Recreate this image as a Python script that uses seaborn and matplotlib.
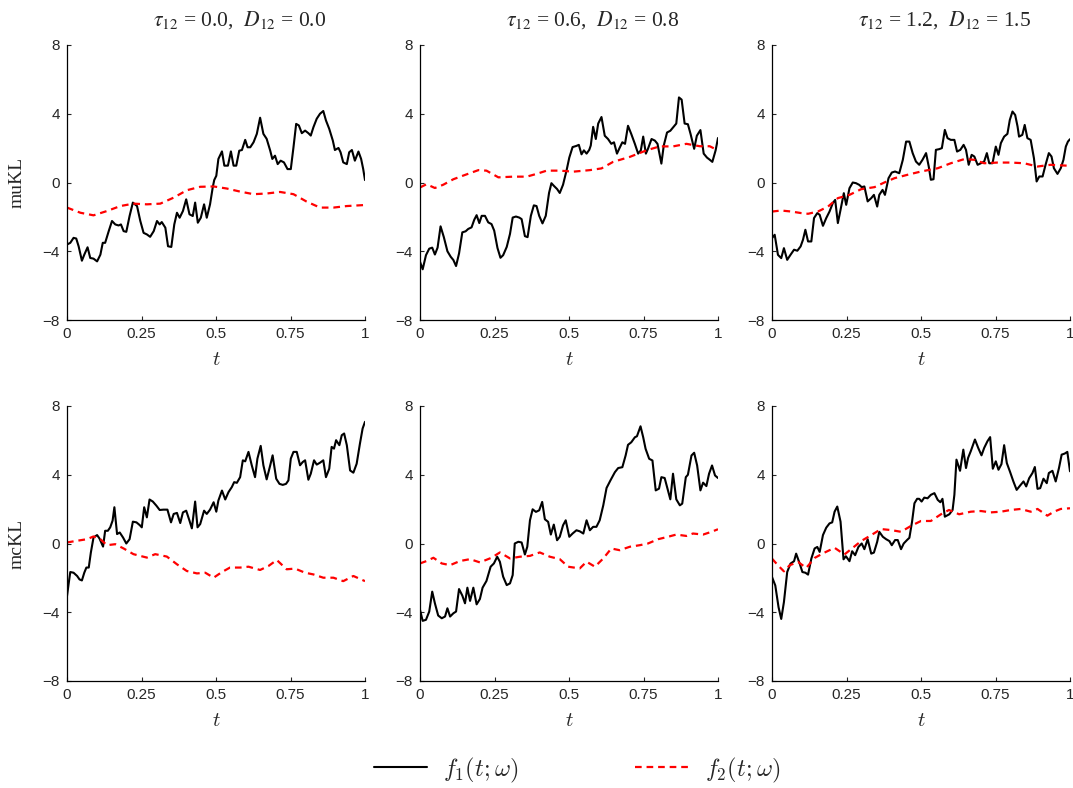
import numpy as np
import pandas as pd
import matplotlib
matplotlib.use("Agg")
import matplotlib.pyplot as plt
from matplotlib.lines import Line2D
from matplotlib.font_manager import FontProperties
import seaborn as sns

# ---------------------------------------------------------------- data
# muKL, tau12 = 0.0, D12 = 0.0
t_mu0_f1 = [0, .011, .022, .031, .039, .050, .058, .069, .078, .089, .101, .112, .120, .128, .140, .151, .162, .173, .181, .190,
            .199, .210, .221, .235, .246, .257, .268, .279, .291, .302, .311, .318, .330, .339, .350, .360, .369, .378, .389, .400,
            .411, .422, .430, .439, .449, .460, .469, .480, .489, .494, .501, .508, .520, .528, .540, .550, .559, .568, .578, .587,
            .598, .606, .615, .626, .637, .648, .659, .670, .682, .689, .698, .707, .717, .728, .740, .751, .760, .769, .778, .788,
            .799, .810, .818, .827, .838, .849, .860, .869, .880, .892, .899, .911, .918, .927, .939, .947, .956, .966, .978, .987,
            .994, 1.0]
y_mu0_f1 = [-3.61, -3.51, -3.22, -3.26, -3.71, -4.55, -4.20, -3.77, -4.39, -4.43, -4.59, -4.20, -3.51, -3.51, -2.83, -2.24, -2.44, -2.50, -2.44, -2.83,
            -2.87, -1.95, -1.17, -1.37, -2.24, -2.93, -3.02, -3.16, -2.83, -2.24, -2.44, -2.30, -2.63, -3.71, -3.75, -2.44, -1.76, -2.05, -1.66, -0.98,
            -1.85, -1.95, -1.17, -2.34, -2.05, -1.27, -2.05, -1.27, -0.29, 0.14, 0.39, 1.37, 1.81, 0.98, 0.98, 1.81, 0.98, 0.98, 1.85, 1.89,
            2.48, 2.05, 2.05, 2.34, 2.83, 3.77, 2.83, 2.54, 1.85, 1.37, 1.56, 1.07, 1.27, 1.17, 0.78, 0.78, 2.05, 3.41, 3.32, 2.87,
            3.02, 2.87, 2.73, 3.22, 3.71, 4.00, 4.16, 3.61, 3.12, 2.44, 1.89, 2.01, 1.76, 1.17, 1.07, 1.76, 1.89, 1.27, 1.80, 1.37,
            0.78, 0.14]
t_mu0_f2 = [0, .045, .089, .134, .179, .223, .268, .313, .358, .402, .447, .492, .536, .581, .626, .670, .715, .760, .804, .849, .894, .939, 1.0]
y_mu0_f2 = [-1.46, -1.76, -1.91, -1.66, -1.37, -1.23, -1.27, -1.23, -0.88, -0.45, -0.25, -0.23, -0.35, -0.53, -0.68, -0.64, -0.55, -0.68, -1.11, -1.46, -1.46, -1.37, -1.31]

# muKL, tau12 = 0.6, D12 = 0.8
t_mu1_f1 = [0, .009, .020, .031, .041, .050, .059, .069, .080, .092, .103, .112, .121, .131, .142, .153, .162, .173, .182, .190,
            .199, .207, .218, .229, .240, .249, .260, .270, .279, .291, .302, .311, .322, .333, .341, .352, .361, .372, .382, .391,
            .400, .411, .422, .433, .441, .449, .460, .469, .480, .492, .501, .512, .525, .533, .542, .550, .559, .568, .573, .581,
            .590, .598, .609, .620, .631, .642, .651, .661, .670, .679, .688, .698, .709, .721, .732, .741, .749, .758, .765, .777,
            .788, .797, .810, .818, .829, .840, .851, .860, .869, .878, .888, .899, .908, .920, .929, .941, .952, .963, .972, .981,
            .992, 1.0]
y_mu1_f1 = [-4.61, -5.05, -4.23, -3.85, -3.79, -4.19, -3.79, -2.55, -3.18, -4.00, -4.32, -4.51, -4.86, -4.13, -2.90, -2.84, -2.70, -2.61, -2.17, -1.90,
            -2.36, -1.94, -1.94, -2.32, -2.42, -2.80, -3.81, -4.38, -4.23, -3.75, -2.99, -2.04, -1.98, -2.04, -2.13, -3.12, -3.18, -1.94, -1.33, -1.37,
            -1.94, -2.38, -1.94, -0.61, -0.04, -0.19, -0.38, -0.61, -0.13, 0.72, 1.45, 2.06, 2.13, 2.19, 1.64, 1.87, 1.68, 1.90, 2.15, 3.24,
            2.53, 3.43, 3.81, 2.72, 2.53, 2.25, 2.34, 1.68, 2.02, 2.34, 2.25, 3.30, 2.82, 2.25, 1.68, 1.87, 2.67, 1.68, 1.96, 2.53,
            2.44, 2.25, 1.10, 2.15, 2.91, 3.01, 3.24, 3.43, 4.95, 4.82, 3.43, 3.39, 2.82, 1.96, 2.72, 3.05, 1.68, 1.45, 1.33, 1.20,
            1.87, 2.59]
t_mu1_f2 = [0, .022, .050, .078, .112, .151, .196, .223, .263, .313, .358, .391, .425, .469, .514, .570, .609, .648, .704, .760, .804, .849, .894, .939, .972, 1.0]
y_mu1_f2 = [-0.29, -0.10, -0.32, -0.13, 0.19, 0.44, 0.72, 0.69, 0.30, 0.34, 0.34, 0.50, 0.69, 0.69, 0.63, 0.72, 0.82, 1.20, 1.49, 1.87, 2.10, 2.10, 2.25, 2.11, 2.11, 1.87]

# muKL, tau12 = 1.2, D12 = 1.5
t_mu2_f1 = [0, .009, .020, .031, .040, .051, .062, .074, .085, .096, .104, .112, .121, .132, .141, .152, .160, .171, .182, .193,
            .204, .212, .221, .230, .241, .249, .260, .271, .282, .293, .301, .310, .321, .333, .342, .353, .360, .371, .379, .391,
            .402, .413, .427, .439, .450, .461, .472, .483, .494, .505, .517, .526, .533, .542, .550, .561, .570, .580, .589, .600,
            .612, .621, .632, .643, .651, .660, .670, .679, .690, .701, .712, .721, .729, .740, .751, .760, .768, .779, .790, .798,
            .807, .816, .824, .829, .840, .848, .857, .868, .879, .888, .897, .908, .918, .929, .938, .946, .958, .969, .978, .986,
            .993, 1.0]
y_mu2_f1 = [-3.24, -3.04, -4.21, -4.40, -3.82, -4.50, -4.21, -3.91, -3.97, -3.72, -3.33, -2.75, -3.43, -3.43, -2.07, -1.78, -1.88, -2.52, -2.07, -1.69,
            -1.20, -1.01, -2.36, -1.59, -0.62, -1.30, -0.33, 0.00, -0.04, -0.14, -0.27, -0.23, -1.10, -0.91, -0.72, -1.40, -0.72, -0.43, -0.72, 0.25,
            0.58, 0.64, 0.54, 1.32, 2.38, 2.38, 1.71, 1.22, 1.03, 1.32, 1.71, 0.93, 0.16, 0.19, 1.90, 1.94, 2.00, 3.06, 2.58, 2.48,
            2.48, 1.80, 1.90, 2.19, 1.90, 1.03, 1.61, 1.51, 1.03, 1.12, 1.22, 1.71, 1.12, 1.12, 2.09, 1.61, 2.29, 2.67, 2.83, 3.64,
            4.13, 3.93, 3.26, 2.67, 2.77, 3.35, 2.58, 2.48, 1.41, 0.06, 0.35, 0.35, 1.03, 1.71, 1.51, 0.83, 0.50, 0.83, 1.32, 2.09,
            2.38, 2.52]
t_mu2_f2 = [0, .031, .065, .098, .121, .154, .188, .221, .260, .299, .344, .377, .411, .455, .500, .556, .600, .645, .679, .712, .757, .801, .846, .891, .935, 1.0]
y_mu2_f2 = [-1.69, -1.63, -1.69, -1.78, -1.82, -1.69, -1.40, -0.91, -0.72, -0.39, -0.27, 0.00, 0.25, 0.45, 0.64, 0.83, 1.12, 1.36, 1.32, 1.12, 1.16, 1.16, 1.12, 0.93, 1.03, 0.97]

# mcKL, tau12 = 0.0, D12 = 0.0
t_mc0_f1 = [0, .006, .011, .022, .034, .042, .050, .058, .065, .073, .080, .089, .101, .109, .121, .128, .137, .145, .153, .159,
            .168, .177, .188, .199, .210, .221, .233, .244, .251, .259, .268, .277, .288, .300, .311, .324, .337, .349, .358, .369,
            .380, .389, .400, .411, .419, .430, .438, .447, .460, .469, .480, .492, .501, .508, .520, .531, .542, .553, .561, .570,
            .581, .590, .598, .609, .620, .631, .639, .650, .659, .670, .682, .690, .702, .713, .724, .735, .743, .751, .760, .771,
            .782, .791, .799, .810, .818, .829, .838, .849, .860, .869, .880, .888, .896, .903, .914, .922, .930, .939, .950, .961,
            .972, .983, .992, 1.0]
y_mc0_f1 = [-3.06, -2.28, -1.66, -1.70, -1.89, -2.09, -2.15, -1.70, -1.40, -1.40, -0.53, 0.35, 0.49, 0.29, -0.18, 0.74, 0.74, 0.94, 1.33, 2.11,
            0.55, 0.64, 0.35, 0.00, 0.25, 1.27, 1.23, 1.07, 0.94, 2.11, 1.52, 2.56, 2.44, 2.20, 1.95, 1.97, 1.97, 1.23, 1.72, 1.78,
            1.19, 1.81, 1.91, 1.33, 0.88, 2.44, 0.94, 1.13, 1.91, 1.72, 1.97, 2.40, 1.85, 2.50, 3.08, 2.56, 2.99, 3.28, 3.57, 3.53,
            3.86, 4.84, 4.78, 5.33, 4.55, 3.86, 4.94, 5.68, 4.55, 3.73, 4.55, 5.13, 3.77, 3.47, 3.41, 3.47, 3.67, 4.94, 5.33, 5.33,
            4.55, 4.74, 4.84, 3.71, 4.06, 4.84, 4.59, 4.70, 4.84, 3.86, 4.35, 5.62, 5.52, 6.01, 5.72, 6.30, 6.40, 5.72, 4.25, 4.12,
            4.64, 5.81, 6.69, 7.08]
t_mc0_f2 = [0, .034, .067, .089, .112, .134, .162, .190, .223, .268, .296, .335, .369, .402, .436, .464, .492, .520, .547, .581, .609, .648, .676,
            .704, .737, .765, .799, .827, .860, .894, .927, .961, 1.0]
y_mc0_f2 = [0.06, 0.16, 0.25, 0.41, 0.25, -0.10, -0.04, -0.29, -0.62, -0.82, -0.62, -0.76, -1.21, -1.60, -1.74, -1.70, -1.99, -1.66, -1.40, -1.40, -1.35, -1.54, -1.31,
            -0.96, -1.50, -1.46, -1.70, -1.80, -1.99, -1.99, -2.19, -1.89, -2.19]

# mcKL, tau12 = 0.6, D12 = 0.8
t_mc1_f1 = [0, .009, .020, .031, .041, .050, .061, .073, .084, .092, .101, .112, .121, .131, .142, .151, .159, .168, .179, .190,
            .201, .210, .223, .237, .248, .259, .268, .279, .291, .302, .311, .318, .330, .341, .352, .360, .369, .378, .389, .400,
            .410, .419, .430, .439, .449, .460, .469, .480, .489, .501, .512, .525, .536, .548, .559, .570, .581, .592, .603, .615,
            .626, .639, .654, .665, .679, .690, .698, .709, .721, .728, .740, .749, .757, .769, .780, .791, .802, .810, .821, .829,
            .840, .849, .860, .872, .880, .892, .899, .911, .920, .930, .941, .950, .961, .970, .980, .990, 1.0]
y_mc1_f1 = [-3.86, -4.50, -4.44, -3.96, -2.80, -3.48, -4.19, -4.35, -4.25, -3.77, -4.25, -4.06, -3.96, -2.65, -3.03, -3.48, -2.57, -3.34, -2.57, -3.54,
            -3.23, -2.57, -2.18, -1.35, -1.16, -0.77, -1.06, -1.93, -2.42, -2.32, -1.84, 0.00, 0.10, 0.06, -0.64, -0.19, 1.35, 1.99, 1.84, 1.93,
            2.42, 1.41, 1.26, 0.52, 1.10, 0.19, 0.39, 1.06, 1.35, 0.39, 0.58, 0.77, 0.71, 0.58, 1.35, 0.77, 0.97, 0.97, 1.35, 2.22,
            3.23, 3.67, 4.15, 4.39, 4.44, 5.12, 5.74, 5.89, 6.18, 6.24, 6.82, 6.18, 5.51, 4.93, 4.83, 3.09, 3.19, 3.86, 3.81, 3.29,
            2.57, 4.06, 2.57, 2.22, 2.32, 3.86, 4.00, 5.12, 5.28, 4.54, 3.09, 3.54, 3.34, 4.06, 4.54, 3.96, 3.81]
t_mc1_f2 = [0, .022, .045, .073, .101, .134, .168, .201, .240, .268, .302, .335, .369, .402, .436, .469, .497, .536, .559, .587, .615, .642, .670,
            .704, .737, .765, .799, .832, .860, .894, .916, .950, .978, 1.0]
y_mc1_f2 = [-1.16, -1.02, -0.83, -1.16, -1.26, -1.02, -0.91, -1.10, -0.83, -0.52, -0.87, -0.77, -0.72, -0.52, -0.77, -0.91, -1.35, -1.45, -1.06, -1.35, -0.87, -0.29, -0.39,
            -0.19, -0.10, 0.00, 0.25, 0.39, 0.52, 0.44, 0.58, 0.52, 0.68, 0.83]

# mcKL, tau12 = 1.2, D12 = 1.5
t_mc2_f1 = [0, .011, .022, .031, .040, .051, .062, .074, .081, .093, .102, .112, .121, .132, .143, .152, .160, .171, .182, .193,
            .202, .210, .219, .230, .240, .248, .260, .269, .279, .290, .301, .310, .321, .333, .342, .353, .360, .372, .383, .394,
            .402, .413, .422, .433, .442, .453, .461, .470, .478, .487, .494, .502, .511, .522, .533, .545, .556, .565, .572, .580,
            .595, .606, .612, .619, .631, .642, .651, .658, .667, .681, .692, .703, .712, .723, .732, .741, .751, .760, .770, .779,
            .788, .799, .810, .821, .833, .844, .853, .863, .874, .882, .891, .900, .911, .922, .929, .941, .952, .963, .972, .982,
            .991, 1.0]
y_mc2_f1 = [-1.95, -2.44, -3.71, -4.39, -3.41, -1.66, -1.17, -1.03, -0.59, -1.17, -1.66, -1.70, -1.81, -0.88, -0.29, -0.20, -0.49, 0.49, 0.92, 1.17,
            1.23, 1.85, 2.15, 1.27, -0.92, -0.74, -1.03, -0.45, -0.68, -0.20, 0.00, -0.33, 0.25, -0.59, -0.53, 0.10, 0.68, 0.39, 0.25, 0.14,
            -0.10, 0.20, 0.20, -0.33, 0.00, 0.20, 0.33, 1.27, 2.34, 2.60, 2.60, 2.44, 2.67, 2.63, 2.83, 2.93, 2.54, 2.40, 2.60, 1.56,
            1.70, 1.95, 2.83, 4.88, 4.23, 5.46, 4.39, 4.98, 5.37, 6.05, 5.56, 5.13, 5.56, 5.95, 6.19, 4.35, 4.78, 4.29, 4.62, 5.72,
            4.68, 4.16, 3.61, 3.12, 3.38, 3.61, 3.32, 3.80, 4.10, 4.45, 3.18, 3.22, 3.77, 3.51, 4.10, 4.23, 3.61, 4.39, 5.17, 5.23,
            5.33, 4.20]
t_mc2_f2 = [0, .020, .040, .059, .087, .115, .143, .176, .210, .243, .271, .299, .333, .366, .400, .433, .467, .500, .533, .567, .594, .628, .667,
            .701, .734, .768, .801, .835, .868, .891, .924, .946, .969, 1.0]
y_mc2_f2 = [-0.88, -1.27, -1.62, -1.27, -1.07, -1.42, -0.84, -0.53, -0.25, -0.64, -0.25, 0.14, 0.49, 0.84, 0.78, 0.68, 1.03, 1.31, 1.31, 1.70, 1.95, 1.70, 1.85,
            1.89, 1.81, 1.85, 1.95, 2.01, 1.85, 2.01, 1.62, 1.85, 2.01, 2.05]

row_labels = ["muKL", "mcKL"]
tau12 = ["0.0", "0.6", "1.2"]
D12 = ["0.0", "0.8", "1.5"]
x_ticks = [0, 0.25, 0.5, 0.75, 1]
x_tick_labels = ["0", "0.25", "0.5", "0.75", "1"]
y_ticks = [-8, -4, 0, 4, 8]
series_labels = [r"$f_1(t;\omega)$", r"$f_2(t;\omega)$"]

panels = [
    [(t_mu0_f1, y_mu0_f1, t_mu0_f2, y_mu0_f2),
     (t_mu1_f1, y_mu1_f1, t_mu1_f2, y_mu1_f2),
     (t_mu2_f1, y_mu2_f1, t_mu2_f2, y_mu2_f2)],
    [(t_mc0_f1, y_mc0_f1, t_mc0_f2, y_mc0_f2),
     (t_mc1_f1, y_mc1_f1, t_mc1_f2, y_mc1_f2),
     (t_mc2_f1, y_mc2_f1, t_mc2_f2, y_mc2_f2)],
]

# ---------------------------------------------------------------- style
sns.set_style("ticks")
plt.rcParams.update({
    "font.family": ["Liberation Sans", "DejaVu Sans"],
    "axes.linewidth": 0.9,
    "axes.edgecolor": "black",
    "xtick.direction": "in",
    "ytick.direction": "in",
    "xtick.major.size": 3,
    "ytick.major.size": 3,
    "xtick.major.width": 0.8,
    "ytick.major.width": 0.8,
    "xtick.major.pad": 5,
    "ytick.major.pad": 5,
    "xtick.labelsize": 11,
    "ytick.labelsize": 11,
})

serif = ["Liberation Serif", "DejaVu Serif"]
title_font = FontProperties(family=serif, size=15.5, math_fontfamily="stix")
ylabel_font = FontProperties(family=serif, size=14)
xlabel_font = FontProperties(size=15, math_fontfamily="cm")
legend_font = FontProperties(size=17.5, math_fontfamily="cm")

W, H = 1073, 788
fig = plt.figure(figsize=(W / 100, H / 100), dpi=100)

col_left = [67, 420, 772]
ax_w = 298
row_top = [45, 406]
ax_h = 275

f1_kw = dict(color="black", linewidth=1.5)
f2_kw = dict(color="#ff0000", linewidth=1.6, dashes=(3.0, 2.2))

for r in range(2):
    for c in range(3):
        ax = fig.add_axes([col_left[c] / W, 1 - (row_top[r] + ax_h) / H, ax_w / W, ax_h / H])
        ta, ya, tb, yb = panels[r][c]
        d1 = pd.DataFrame({"t": ta, "f": ya})
        d2 = pd.DataFrame({"t": tb, "f": yb})
        sns.lineplot(data=d1, x="t", y="f", ax=ax, **f1_kw)
        line2 = sns.lineplot(data=d2, x="t", y="f", ax=ax, color=f2_kw["color"],
                             linewidth=f2_kw["linewidth"]).lines[-1]
        line2.set_dashes(f2_kw["dashes"])
        ax.set_xlim(0, 1)
        ax.set_ylim(-8, 8)
        ax.set_xticks(x_ticks)
        ax.set_xticklabels(x_tick_labels)
        ax.set_yticks(y_ticks)
        sns.despine(ax=ax)
        ax.set_xlabel(r"$t$", fontproperties=xlabel_font)
        ax.xaxis.set_label_coords(0.5, -0.11)
        if c == 0:
            ax.set_ylabel(row_labels[r], fontproperties=ylabel_font)
            ax.yaxis.set_label_coords(-0.14, 0.5)
        else:
            ax.set_ylabel("")
        if r == 0:
            ttl = ax.set_title(r"$\tau_{12}$ = " + tau12[c] + r",  $D_{12}$ = " + D12[c],
                               fontproperties=title_font, pad=14)
            ttl.set_x(0.58)

handles = [
    Line2D([], [], **f1_kw),
    Line2D([], [], color=f2_kw["color"], linewidth=f2_kw["linewidth"], dashes=f2_kw["dashes"]),
]
fig.legend(handles, series_labels, loc="center", bbox_to_anchor=(577 / W, 1 - 770 / H), ncol=2,
           frameon=False, prop=legend_font, handlelength=2.2, handletextpad=0.65,
           columnspacing=4.8)

fig.savefig("out.png", dpi=100)
